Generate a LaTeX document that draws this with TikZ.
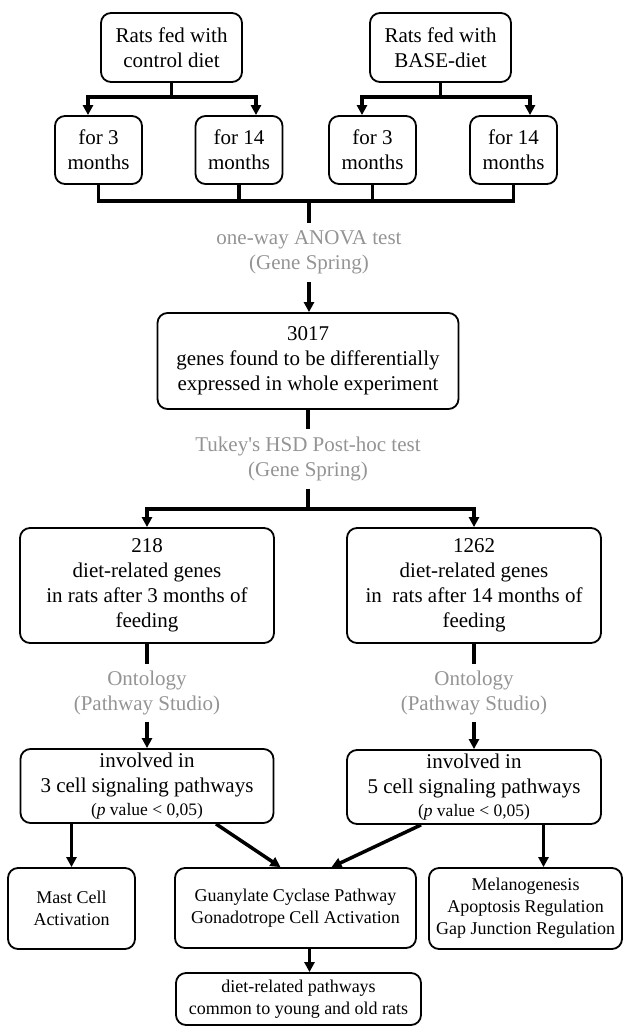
\documentclass[tikz,border=0pt]{standalone}
\usepackage{fontspec}
\setmainfont{Liberation Serif}
\usetikzlibrary{positioning,arrows.meta,calc}

\begin{document}
\begin{tikzpicture}[
    x=1pt, y=1pt,
    font=\fontsize{21}{25}\selectfont,
    >={Triangle[length=10pt,width=10pt]},
    box/.style={
        draw,
        rounded corners=10pt,
        line width=1.8pt,
        align=center,
        inner xsep=2pt,
        inner ysep=1pt
    },
    smallbox/.style={
        box,
        font=\fontsize{18}{22}\selectfont
    },
    toollabel/.style={
        align=center,
        text=black!42,
        minimum height=59pt,
        inner sep=0pt
    },
    link/.style={
        line width=3.5pt
    },
    arrow/.style={
        ->,
        line width=3.5pt
    }
]

\useasboundingbox (0,0) rectangle (623,-1027);

% Diet groups
\node[box, minimum width=141pt, minimum height=69pt] (ctrl) at (171.5,-47.5) {Rats fed with\\control diet};
\node[box, minimum width=141pt, minimum height=69pt] (base) at (440.5,-47.5) {Rats fed with\\BASE-diet};

% Feeding periods
\foreach \n/\x/\t in {c3/98.5/3, c14/239/14, b3/372.5/3, b14/513.5/14} {
    \node[box, minimum width=87pt, minimum height=68pt] (\n) at (\x,-150) {for \t\\months};
}

% Split into periods
\draw[arrow] (ctrl.south) -- ++(0,-14) -| ([xshift=-10.5pt]c3.north);
\draw[arrow] (ctrl.south) -- ++(0,-14) -| ([xshift=17pt]c14.north);
\draw[arrow] (base.south) -- ++(0,-14) -| ([xshift=-10.5pt]b3.north);
\draw[arrow] (base.south) -- ++(0,-14) -| ([xshift=16.5pt]b14.north);

% Merge all groups
\coordinate (merge) at (309,-201);
\draw[link] (c3.south) -- (c3.south |- merge) -- (b14.south |- merge) -- (b14.south);
\draw[link] (c14.south) -- (c14.south |- merge);
\draw[link] (b3.south) -- (b3.south |- merge);

% ANOVA
\node[toollabel] (anova) at (309,-252.5) {one-way ANOVA test\\(Gene Spring)};
\node[box, minimum width=301pt, minimum height=96pt] (g3017) at (308,-361) {3017\\genes found to be differentially\\expressed in whole experiment};
\draw[link] (merge) -- (anova.north);
\draw[arrow] (anova.south) -- (anova.south |- g3017.north);

% Post-hoc test
\node[toollabel] (tukey) at (308,-459) {Tukey\textquotesingle s HSD Post-hoc test\\(Gene Spring)};
\coordinate (split) at (308,-509);
\draw[link] (g3017.south) -- (tukey.north);
\draw[link] (tukey.south) -- (split);

% Diet-related genes
\node[box, minimum width=254pt, minimum height=115pt] (g218) at (147,-585.5) {218\\diet-related genes\\in rats after 3 months of\\feeding};
\node[box, minimum width=254pt, minimum height=115pt] (g1262) at (474,-585.5) {1262\\diet-related genes\\in\ \ rats after 14 months of\\feeding};
\draw[arrow] (split) -| (g218.north);
\draw[arrow] (split) -| (g1262.north);

% Ontology
\node[toollabel, minimum height=57pt] (ont3) at (147,-693) {Ontology\\(Pathway Studio)};
\node[toollabel, minimum height=57pt] (ont14) at (474,-693) {Ontology\\(Pathway Studio)};

\node[box, minimum width=253pt, minimum height=74pt] (inv3) at (147,-786) {involved in\\3 cell signaling pathways\\[-2pt]{\fontsize{17.5}{20}\selectfont(\textit{p} value < 0,05)}};
\node[box, minimum width=254pt, minimum height=74pt] (inv5) at (474,-787) {involved in\\5 cell signaling pathways\\[-2pt]{\fontsize{17.5}{20}\selectfont(\textit{p} value < 0,05)}};

\draw[link] (g218.south) -- (ont3.north);
\draw[arrow] (ont3.south) -- (inv3.north);
\draw[link] (g1262.south) -- (ont14.north);
\draw[arrow] (ont14.south) -- (inv5.north);

% Pathways
\node[smallbox, minimum width=127pt, minimum height=81pt] (mast) at (71.5,-908.5) {Mast Cell\\Activation};
\node[smallbox, minimum width=241pt, minimum height=80pt] (gcp) at (295.5,-908) {Guanylate Cyclase Pathway\\Gonadotrope Cell Activation};
\node[smallbox, minimum width=193pt, minimum height=81pt] (mel) at (525.5,-908.5) {Melanogenesis\\Apoptosis Regulation\\Gap Junction Regulation};
\node[smallbox, minimum width=245pt, minimum height=52pt] (common) at (298.5,-999) {diet-related pathways\\common to young and old rats};

\draw[arrow] (mast.north |- inv3.south) -- (mast.north);
\draw[arrow] ([xshift=69pt]inv3.south) -- ([xshift=-15pt]gcp.north);
\draw[arrow] ([xshift=-53pt]inv5.south) -- ([xshift=36pt]gcp.north);
\draw[arrow] ([xshift=18pt]mel.north |- inv5.south) -- ([xshift=18pt]mel.north);
\draw[arrow] ([xshift=14pt]gcp.south) -- ([xshift=14pt]gcp.south |- common.north);

\end{tikzpicture}
\end{document}
